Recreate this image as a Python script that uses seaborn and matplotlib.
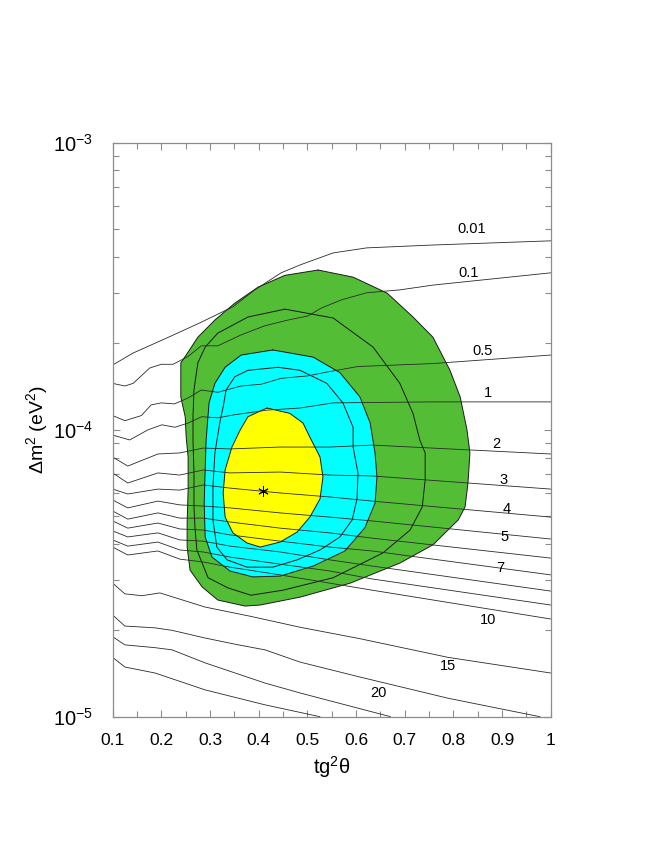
import matplotlib
matplotlib.use("Agg")
import matplotlib.pyplot as plt
import matplotlib.ticker as mticker
import numpy as np
import seaborn as sns

# all dm2 values in units of 1e-5 eV^2
SCALE = 1e-5

# ------------------------------------------------------
# Allowed regions (closed curves)
# ------------------------------------------------------
green_x = [0.522, 0.594, 0.664, 0.717, 0.758, 0.793, 0.814, 0.828, 0.834, 0.830, 0.824, 0.810,
           0.758, 0.690, 0.588, 0.485, 0.403, 0.372, 0.316, 0.284, 0.259, 0.253, 0.253, 0.255,
           0.255, 0.251, 0.249, 0.240, 0.240, 0.240, 0.251, 0.275, 0.310, 0.351, 0.399, 0.454]
green_dm2 = [36.0, 34.0, 29.9, 24.7, 21.0, 16.1, 13.0, 9.98, 8.30, 6.52, 5.38, 4.85,
             3.97, 3.43, 2.92, 2.61, 2.45, 2.43, 2.55, 2.83, 3.24, 3.90, 4.73, 6.17,
             8.03, 9.43, 11.1, 13.0, 15.3, 17.1, 18.2, 21.0, 24.1, 27.6, 31.4, 34.5]

cyan_x = [0.429, 0.512, 0.567, 0.608, 0.629, 0.639, 0.643, 0.639, 0.618, 0.577, 0.512, 0.444,
          0.388, 0.341, 0.304, 0.290, 0.288, 0.290, 0.292, 0.298, 0.310, 0.331, 0.364]
cyan_dm2 = [18.96, 17.9, 15.8, 13.0, 10.55, 8.30, 6.84, 5.55, 4.55, 3.78, 3.35, 3.09,
            3.07, 3.22, 3.60, 4.23, 5.55, 7.24, 9.21, 12.4, 14.5, 16.5, 18.2]

yellow_x = [0.417, 0.464, 0.491, 0.505, 0.526, 0.532, 0.526, 0.505, 0.479, 0.444, 0.403, 0.376,
            0.347, 0.331, 0.327, 0.331, 0.345, 0.362, 0.378]
yellow_dm2 = [11.9, 11.4, 10.55, 9.43, 8.03, 6.84, 5.74, 4.96, 4.40, 4.06, 3.90, 4.03,
              4.37, 4.96, 6.02, 7.24, 8.70, 9.98, 11.1]

# extra closed contour lines inside the regions
ring1_x = [0.454, 0.553, 0.635, 0.690, 0.717, 0.731, 0.742, 0.742, 0.736, 0.711, 0.655, 0.553,
           0.450, 0.384, 0.337, 0.296, 0.273, 0.269, 0.267, 0.267, 0.265, 0.265, 0.267, 0.275,
           0.290, 0.316, 0.378]
ring1_dm2 = [26.3, 24.5, 19.4, 14.5, 11.4, 9.21, 8.30, 6.68, 5.38, 4.47, 3.72, 3.05,
             2.76, 2.65, 2.81, 3.05, 3.81, 4.58, 5.38, 7.07, 9.21, 11.1, 13.75, 17.1,
             19.4, 21.7, 24.7]

ring2_x = [0.440, 0.485, 0.540, 0.573, 0.594, 0.594, 0.604, 0.602, 0.592, 0.567, 0.526, 0.479,
           0.429, 0.376, 0.335, 0.314, 0.306, 0.306, 0.310, 0.321, 0.327, 0.333, 0.351, 0.378]
ring2_dm2 = [16.5, 16.1, 14.5, 12.4, 10.2, 8.70, 7.07, 5.74, 4.85, 4.23, 3.81, 3.52,
             3.32, 3.32, 3.52, 3.90, 4.85, 6.31, 8.30, 10.8, 12.0, 13.75, 15.3, 16.1]

best_fit_x = [0.4095]
best_fit_dm2 = [6.13]

# ------------------------------------------------------
# Iso-lines
# ------------------------------------------------------
iso_001_x = [0.10, 0.142, 0.212, 0.280, 0.347, 0.392, 0.417, 0.446, 0.485, 0.553, 0.622, 0.758, 1.0]
iso_001_dm2 = [16.8, 18.5, 20.9, 23.6, 26.8, 30.7, 32.7, 35.2, 37.5, 41.3, 43.0, 44.0, 45.5]

iso_01_x = [0.10, 0.125, 0.142, 0.176, 0.200, 0.224, 0.255, 0.282, 0.316, 0.364, 0.412, 0.460,
            0.501, 0.528, 0.569, 0.622, 0.690, 0.758, 1.0]
iso_01_dm2 = [14.5, 14.2, 14.5, 16.4, 16.9, 16.9, 18.0, 19.6, 19.6, 21.4, 23.0, 24.1,
              24.9, 26.5, 28.3, 30.0, 30.7, 31.9, 35.2]

iso_05_x = [0.10, 0.125, 0.159, 0.179, 0.200, 0.227, 0.255, 0.282, 0.316, 0.364, 0.405, 0.446,
            0.501, 0.542, 0.604, 0.758, 1.0]
iso_05_dm2 = [11.2, 10.75, 11.2, 12.2, 12.4, 12.3, 12.9, 13.75, 13.5, 14.2, 14.4, 15.1,
              15.4, 15.9, 16.6, 17.0, 18.2]

iso_1_x = [0.10, 0.135, 0.172, 0.201, 0.228, 0.255, 0.283, 0.316, 0.347, 0.417, 0.485, 0.553, 0.758, 1.0]
iso_1_dm2 = [9.58, 9.21, 9.98, 10.4, 10.2, 10.55, 11.1, 11.0, 11.25, 11.7, 11.9, 12.4, 12.5, 12.5]

mid_x = [0.100, 0.131, 0.193, 0.238, 0.286, 0.341, 0.444, 0.546, 0.633, 1.0]
iso_2_dm2 = [8.03, 7.47, 8.23, 8.30, 8.63, 8.57, 8.70, 8.70, 8.84, 8.23]
iso_3_dm2 = [7.07, 6.52, 7.07, 6.95, 7.24, 7.07, 7.12, 6.95, 6.90, 6.21]
iso_4_dm2 = [6.21, 5.97, 6.21, 6.16, 6.42, 6.26, 6.02, 5.83, 5.64, 4.96]
iso_5_dm2 = [5.69, 5.34, 5.64, 5.47, 5.42, 5.34, 5.13, 4.96, 4.81, 4.16]
iso_6_dm2 = [5.21, 4.88, 5.13, 4.92, 4.92, 4.77, 4.54, 4.37, 4.19, 3.57]
iso_7_dm2 = [4.81, 4.54, 4.73, 4.51, 4.47, 4.30, 4.09, 3.90, 3.78, 3.12]
iso_8_dm2 = [4.44, 4.23, 4.37, 4.13, 4.09, 3.93, 3.75, 3.52, 3.35, 2.74]
iso_9_dm2 = [4.13, 3.93, 4.06, 3.81, 3.75, 3.60, 3.40, 3.22, 3.02, 2.45]
iso_10_dm2 = [3.90, 3.66, 3.78, 3.54, 3.46, 3.32, 3.12, 2.92, 2.76, 2.19]

iso_15_x = [0.100, 0.125, 0.160, 0.197, 0.290, 0.382, 0.485, 0.608, 0.789, 1.0]
iso_15_dm2 = [2.92, 2.68, 2.64, 2.70, 2.41, 2.24, 2.05, 1.87, 1.61, 1.42]

iso_20_x = [0.100, 0.125, 0.187, 0.222, 0.290, 0.358, 0.413, 0.485, 0.608, 0.789, 0.978]
iso_20_dm2 = [2.26, 2.07, 2.04, 2.00, 1.88, 1.78, 1.71, 1.55, 1.375, 1.16, 1.00]

iso_25_x = [0.100, 0.125, 0.187, 0.222, 0.290, 0.413, 0.485, 0.671]
iso_25_dm2 = [1.90, 1.78, 1.74, 1.71, 1.54, 1.31, 1.21, 1.00]

iso_30_x = [0.100, 0.125, 0.187, 0.290, 0.413, 0.526]
iso_30_dm2 = [1.61, 1.49, 1.42, 1.24, 1.10, 1.00]

label_text = ["0.01", "0.1", "0.5", "1", "2", "3", "4", "5", "7", "10", "15", "20"]
label_x = [0.838, 0.832, 0.860, 0.870, 0.889, 0.903, 0.910, 0.906, 0.896, 0.872, 0.789, 0.647]
label_dm2 = [49.9, 35.2, 18.85, 13.4, 8.92, 6.68, 5.29, 4.22, 3.29, 2.17, 1.50, 1.21]


def draw_curve(ax, xs, ys, closed=False, color="#2a2a2a", lw=0.6):
    xs = list(xs)
    ys = [v * SCALE for v in ys]
    if closed:
        xs = xs + xs[:1]
        ys = ys + ys[:1]
    sns.lineplot(x=xs, y=ys, ax=ax, sort=False, estimator=None,
                 color=color, linewidth=lw)


def main():
    sns.set_theme(style="ticks")
    plt.rcParams["font.family"] = ["Liberation Sans", "DejaVu Sans"]
    plt.rcParams.update({
        "mathtext.fontset": "custom",
        "mathtext.rm": "Liberation Sans",
        "mathtext.it": "Liberation Sans:italic",
        "mathtext.bf": "Liberation Sans:bold",
        "text.color": "black",
        "axes.labelcolor": "black",
        "xtick.labelcolor": "black",
        "ytick.labelcolor": "black",
    })

    fig = plt.figure(figsize=(6.64, 8.6), dpi=100)
    ax = fig.add_axes([0.1697, 0.1666, 0.6597, 0.6675])
    ax.set_yscale("log")

    # filled regions
    for xs, ys, col in [(green_x, green_dm2, "#53bd36"),
                        (cyan_x, cyan_dm2, "#00ffff"),
                        (yellow_x, yellow_dm2, "#ffff00")]:
        ax.fill(xs, [v * SCALE for v in ys], color=col, lw=0, zorder=1)
        draw_curve(ax, xs, ys, closed=True, color="#1a1a1a", lw=0.7)

    draw_curve(ax, ring1_x, ring1_dm2, closed=True, color="#1a1a1a", lw=0.7)
    draw_curve(ax, ring2_x, ring2_dm2, closed=True, color="#1a1a1a", lw=0.7)

    # iso-lines
    draw_curve(ax, iso_001_x, iso_001_dm2)
    draw_curve(ax, iso_01_x, iso_01_dm2)
    draw_curve(ax, iso_05_x, iso_05_dm2)
    draw_curve(ax, iso_1_x, iso_1_dm2)
    for ys in [iso_2_dm2, iso_3_dm2, iso_4_dm2, iso_5_dm2, iso_6_dm2,
               iso_7_dm2, iso_8_dm2, iso_9_dm2, iso_10_dm2]:
        draw_curve(ax, mid_x, ys)
    draw_curve(ax, iso_15_x, iso_15_dm2)
    draw_curve(ax, iso_20_x, iso_20_dm2)
    draw_curve(ax, iso_25_x, iso_25_dm2)
    draw_curve(ax, iso_30_x, iso_30_dm2)

    for t, x, v in zip(label_text, label_x, label_dm2):
        ax.text(x, v * SCALE, t, ha="center", va="center", fontsize=10.5, color="black")

    # best fit point
    sns.scatterplot(x=best_fit_x, y=[v * SCALE for v in best_fit_dm2], ax=ax,
                    marker=(6, 2, 0), s=50, color="black", linewidth=0.7, zorder=5)

    ax.set_xlim(0.1, 1.0)
    ax.set_ylim(1e-5, 1e-3)

    ax.set_xticks(np.round(np.arange(0.1, 1.01, 0.1), 2))
    ax.set_xticklabels(["0.1", "0.2", "0.3", "0.4", "0.5", "0.6", "0.7", "0.8", "0.9", "1"])
    ax.xaxis.set_minor_locator(mticker.MultipleLocator(0.05))
    ax.set_yticks([1e-5, 1e-4, 1e-3])
    ax.set_yticklabels([r"$10^{-5}$", r"$10^{-4}$", r"$10^{-3}$"])
    ax.yaxis.set_minor_locator(mticker.LogLocator(base=10, subs=np.arange(2, 10)))
    ax.yaxis.set_minor_formatter(mticker.NullFormatter())

    ax.tick_params(which="both", direction="in", top=True, right=True,
                   color="#8c8c8c", width=0.8, labelcolor="black")
    ax.tick_params(which="major", length=5)
    ax.tick_params(which="minor", length=4)
    ax.tick_params(axis="x", which="major", labelsize=12.5, pad=12)
    ax.tick_params(axis="y", which="major", labelsize=14.5, pad=14)
    for sp in ax.spines.values():
        sp.set_color("#8c8c8c")
        sp.set_linewidth(0.9)

    ax.set_xlabel(r"tg$^2$θ", fontsize=14.5, labelpad=4, color="black")
    ax.set_ylabel(r"Δm$^2$ (eV$^2$)", fontsize=14, labelpad=2, color="black")
    ax.grid(False)

    fig.savefig("out.png", dpi=100)
    plt.close(fig)


if __name__ == "__main__":
    main()
